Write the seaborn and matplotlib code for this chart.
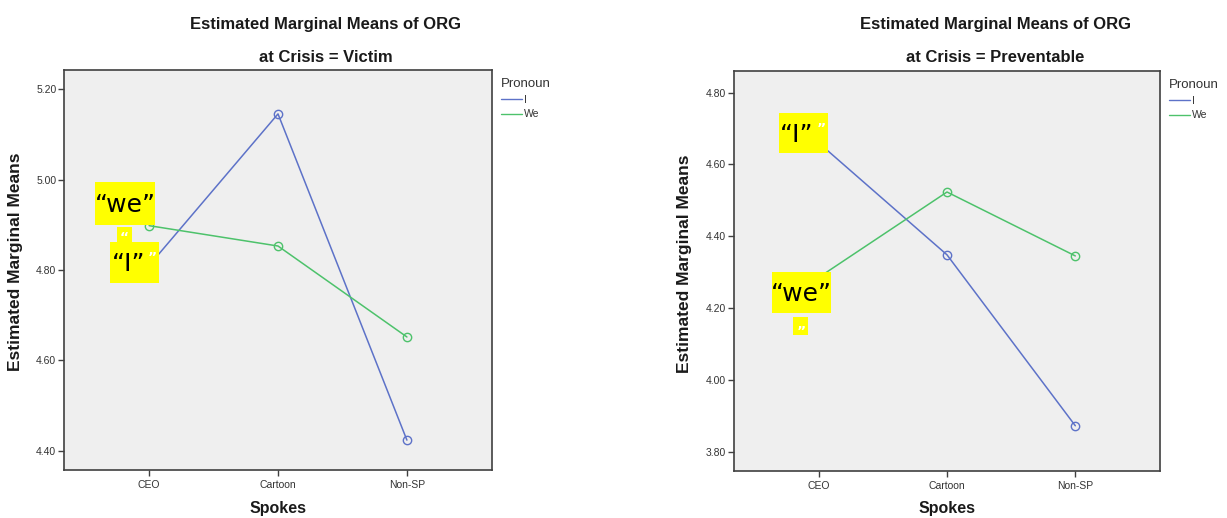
import matplotlib
matplotlib.use("Agg")
import pandas as pd
import matplotlib.pyplot as plt
import seaborn as sns
from matplotlib.lines import Line2D
from matplotlib.patches import Rectangle

spokes = ["CEO", "Cartoon", "Non-SP"]
pronouns = ["I", "We"]

victim_i = [4.81, 5.145, 4.424]
victim_we = [4.898, 4.853, 4.652]
preventable_i = [4.66, 4.348, 3.872]
preventable_we = [4.285, 4.523, 4.345]

victim_ticks = [4.40, 4.60, 4.80, 5.00, 5.20]
preventable_ticks = [3.80, 4.00, 4.20, 4.40, 4.60, 4.80]

colors = {"I": "#5D72C8", "We": "#4DC26B"}

sns.set_style("ticks")
plt.rcParams["font.family"] = ["Liberation Sans", "DejaVu Sans"]

W, H = 1227, 518
fig = plt.figure(figsize=(W / 100, H / 100), dpi=100)
fig.patch.set_facecolor("white")


def px_axes(x0, y0, x1, y1):
    return fig.add_axes([x0 / W, 1 - y1 / H, (x1 - x0) / W, (y1 - y0) / H])


def fig_text(x, y, s, **kw):
    return fig.text(x / W, 1 - y / H, s, **kw)


def draw_panel(ax, i_vals, we_vals, ylim, ticks):
    df = pd.DataFrame({
        "Spokes": spokes * 2,
        "Pronoun": ["I"] * 3 + ["We"] * 3,
        "mean": i_vals + we_vals,
    })
    sns.lineplot(data=df, x="Spokes", y="mean", hue="Pronoun", palette=colors,
                 marker="o", markersize=6, linewidth=1.1, sort=False,
                 legend=False, ax=ax)
    for ln in ax.lines:
        ln.set_markerfacecolor("none")
        ln.set_markeredgecolor(ln.get_color())
        ln.set_markeredgewidth(1.0)

    ax.set_facecolor("#EFEFEF")
    ax.set_xlim(-0.66, 2.66)
    ax.set_ylim(ylim)
    ax.set_yticks(ticks)
    ax.set_yticklabels([f"{t:.2f}" for t in ticks])
    ax.set_xlabel("")
    ax.set_ylabel("")
    for sp in ax.spines.values():
        sp.set_visible(True)
        sp.set_color("#404040")
        sp.set_linewidth(1.2)
    ax.tick_params(axis="both", direction="out", length=4.5, width=1,
                   color="#404040", labelsize=7.5, labelcolor="#333333")
    ax.tick_params(axis="y", pad=1)
    ax.tick_params(axis="x", pad=3)

    handles = [Line2D([], [], color=colors[p], lw=1) for p in pronouns]
    leg = ax.legend(handles, pronouns, title="Pronoun", loc="upper left",
                    bbox_to_anchor=(1.021, 0.98), frameon=False, fontsize=7.5,
                    title_fontsize=9.5, handlelength=2, handletextpad=0.2,
                    borderpad=0, borderaxespad=0, labelspacing=0.45)
    leg._legend_box.align = "left"
    leg.get_title().set_color("#333333")
    for t in leg.get_texts():
        t.set_color("#333333")


ax1 = px_axes(64, 70, 492, 470)
ax2 = px_axes(734, 71, 1160, 471)

draw_panel(ax1, victim_i, victim_we, (4.358, 5.242), victim_ticks)
draw_panel(ax2, preventable_i, preventable_we, (3.746, 4.860), preventable_ticks)

# titles and axis labels
for cx, bx, sub in [(326, 278, "at Crisis = Victim"),
                    (995, 947, "at Crisis = Preventable")]:
    fig_text(cx, 24, "Estimated Marginal Means of ORG", ha="center", va="center",
             fontsize=12, fontweight="bold", color="#1a1a1a")
    fig_text(cx, 57, sub, ha="center", va="center",
             fontsize=12, fontweight="bold", color="#1a1a1a")
    fig_text(bx, 509, "Spokes", ha="center", va="center",
             fontsize=11.5, fontweight="bold", color="#1a1a1a")
fig_text(16, 262, "Estimated Marginal Means", ha="center", va="center",
         rotation=90, fontsize=12.5, fontweight="bold", color="#1a1a1a")
fig_text(685, 264, "Estimated Marginal Means", ha="center", va="center",
         rotation=90, fontsize=12.5, fontweight="bold", color="#1a1a1a")


# yellow highlight notes pasted over the charts
def note(x0, y0, x1, y1):
    fig.patches.append(Rectangle((x0 / W, 1 - y1 / H), (x1 - x0) / W, (y1 - y0) / H,
                                 transform=fig.transFigure, facecolor="#FFFF00",
                                 edgecolor="none", zorder=5))


note_font = ["DejaVu Sans"]

note(95, 182, 155, 225)
fig_text(125, 205, "\u201cwe\u201d", ha="center", va="center", fontsize=18,
         family=note_font, color="black", zorder=6)
note(117, 227, 132, 243)
note(110, 242, 159, 283)
fig_text(124, 238, "\u201c", ha="center", va="center", fontsize=10,
         family=note_font, color="white", fontweight="bold", zorder=6)
fig_text(129, 264, "\u201cI\u201d", ha="center", va="center", fontsize=18,
         family=note_font, color="black", zorder=6)
fig_text(152, 258, "\u201d", ha="center", va="center", fontsize=10,
         family=note_font, color="white", fontweight="bold", zorder=6)

note(779, 113, 828, 153)
fig_text(797, 135, "\u201cI\u201d", ha="center", va="center", fontsize=18,
         family=note_font, color="black", zorder=6)
fig_text(821, 129, "\u201d", ha="center", va="center", fontsize=10,
         family=note_font, color="white", fontweight="bold", zorder=6)
note(772, 272, 831, 313)
fig_text(801, 294, "\u201cwe\u201d", ha="center", va="center", fontsize=18,
         family=note_font, color="black", zorder=6)
note(793, 317, 808, 335)
fig_text(801, 332, "\u201d", ha="center", va="center", fontsize=10,
         family=note_font, color="white", fontweight="bold", zorder=6)

fig.savefig("out.png", dpi=100)
